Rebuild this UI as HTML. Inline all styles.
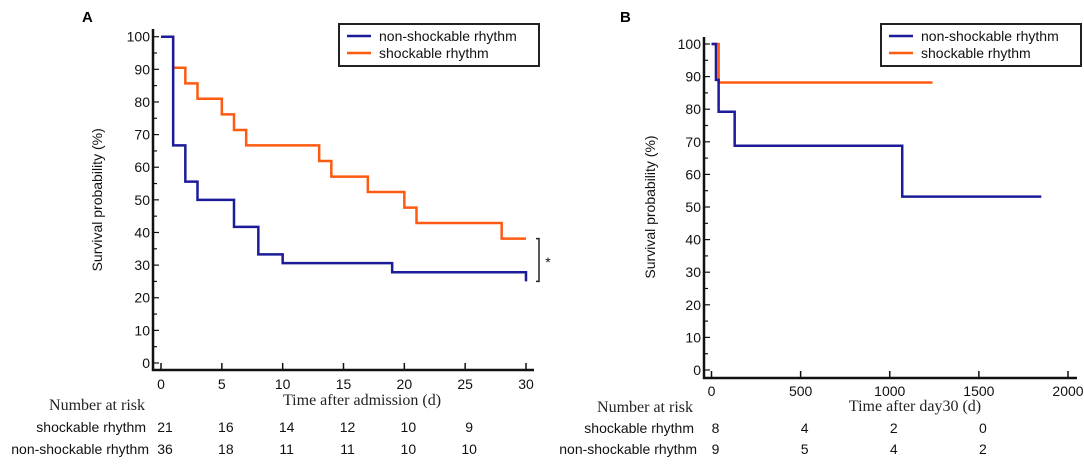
<!DOCTYPE html>
<html><head><meta charset="utf-8">
<style>
body{margin:0;background:#fff;}
svg{display:block;font-family:"Liberation Sans",sans-serif;}
.tick{font-size:14px;fill:#111;}
.serif{font-family:"Liberation Serif",serif;font-size:16px;fill:#222;}
</style></head>
<body>
<svg id="chart" width="1084" height="470" viewBox="0 0 1084 470"></svg>
<script>
// Panel A data
const aTimes = [0,1,2,3,5,6,7,13,14,17,20,21,28,30];
const aShock = [100,90.5,85.7,81,76.2,71.4,66.7,61.9,57.1,52.4,47.6,42.9,38.1,38.1];
const aNonTimes = [0,1,2,3,6,8,10,19,30];
const aNon = [100,66.7,55.6,50,41.7,33.3,30.6,27.8,25];
const aXTicks = [0,5,10,15,20,25,30];
const yTicks = [0,10,20,30,40,50,60,70,80,90,100];
const aRiskShock = ["21","16","14","12","10","9"];
const aRiskNon = ["36","18","11","11","10","10"];
// Panel B data
const bShockTimes = [0,40,1240];
const bShock = [100,88.2,88.2];
const bNonTimes = [0,25,40,130,1070,1850];
const bNon = [100,89,79.2,68.8,53.2,53.2];
const bXTicks = [0,500,1000,1500,2000];
const bRiskShock = ["8","4","2","0"];
const bRiskNon = ["9","5","4","2"];

const svg = document.getElementById('chart');
const NS = 'http://www.w3.org/2000/svg';
function el(tag, attrs, parent){
  const e = document.createElementNS(NS, tag);
  for (const k in attrs) e.setAttribute(k, attrs[k]);
  (parent||svg).appendChild(e);
  return e;
}
function txt(x,y,s,cls,anchor,parent){
  const t = el('text',{x:x,y:y,class:cls,'text-anchor':anchor||'middle'},parent);
  t.textContent = s;
  return t;
}
function stepPath(times, vals, sx, sy){
  let d = 'M'+sx(times[0])+','+sy(vals[0]);
  for (let i=1;i<times.length;i++){
    d += ' H'+sx(times[i])+' V'+sy(vals[i]);
  }
  return d;
}

function panel(cfg){
  const g = el('g',{});
  
  
  const sx = v => cfg.x0 + (v - cfg.xmin)/(cfg.xmax - cfg.xmin)*(cfg.x1 - cfg.x0);
  const sy = v => cfg.y0 - v/100*(cfg.y0 - cfg.y100);
  const ax = el('path',{d:'M'+cfg.axX+','+cfg.axTop+' V'+cfg.axY+' H'+cfg.axRight,stroke:'#111','stroke-width':2.5,fill:'none'},g);
  
  
  for (let i=0;i<=20;i++){
    const v=i*5, y=sy(v);
    el('line',{x1:cfg.axX,x2:cfg.axX+(i%2==0?6:4),y1:y,y2:y,stroke:'#111','stroke-width':1.2},g);
  }
  yTicks.forEach(v=>{
    const t = txt(cfg.axX-3, sy(v)+5, String(v), 'tick','end',g);
    
    
  });
  cfg.xTicks.forEach(v=>{
    el('line',{x1:sx(v),x2:sx(v),y1:cfg.axY,y2:cfg.axY-7,stroke:'#111','stroke-width':1.5},g);
    const t = txt(sx(v), cfg.xLabY, String(v), 'tick','middle',g);
    
    
  });
  const yt = el('text',{x:0,y:0,transform:'translate('+cfg.yTitleX+','+sy(50)+') rotate(-90)','text-anchor':'middle',class:'tick'},g);
  yt.textContent='Survival probability (%)';
  
  
  const xt = txt(cfg.xTitleX, cfg.xTitleY, cfg.xTitle, 'serif','middle',g);
  
  
  const o = el('path',{d:stepPath(cfg.sT,cfg.sV,sx,sy),stroke:'#ff5a12','stroke-width':2.5,fill:'none'},g);
  
  
  const b = el('path',{d:stepPath(cfg.nT,cfg.nV,sx,sy),stroke:'#1c1c9a','stroke-width':2.5,fill:'none'},g);
  
  
  const lg = el('g',{},g);
  
  
  el('rect',{x:cfg.lx,y:cfg.ly,width:cfg.lw,height:42,fill:'#fff',stroke:'#222','stroke-width':2},lg);
  el('line',{x1:cfg.lx+8,x2:cfg.lx+32,y1:cfg.ly+12,y2:cfg.ly+12,stroke:'#1c1c9a','stroke-width':2.5},lg);
  el('line',{x1:cfg.lx+8,x2:cfg.lx+32,y1:cfg.ly+29,y2:cfg.ly+29,stroke:'#ff5a12','stroke-width':2.5},lg);
  const l1=txt(cfg.lx+40,cfg.ly+17,'non-shockable rhythm','tick','start',lg);
  
  
  const l2=txt(cfg.lx+40,cfg.ly+34,'shockable rhythm','tick','start',lg);
  
  
  const pl = el('text',{x:cfg.letterX,y:22,'font-size':'15','font-weight':'bold'},g);
  pl.textContent = cfg.letter;
  
  
  const rt = el('g',{},g);
  
  
  txt(cfg.riskLabelX, cfg.riskY, 'Number at risk','serif','end',rt);
  txt(cfg.riskLabelX+1, cfg.riskY+cfg.rowGap1, 'shockable rhythm','tick','end',rt);
  txt(cfg.riskLabelX+4, cfg.riskY+cfg.rowGap2, 'non-shockable rhythm','tick','end',rt);
  cfg.rS.forEach((s,i)=>txt(sx(cfg.xTicks[i])+4, cfg.riskY+cfg.rowGap1, s,'tick','middle',rt));
  cfg.rN.forEach((s,i)=>txt(sx(cfg.xTicks[i])+4, cfg.riskY+cfg.rowGap2, s,'tick','middle',rt));
  return {g,sx,sy};
}

const A = panel({name:'panel-a',letter:'A',letterX:82,x0:161,x1:526,xmin:0,xmax:30,y0:363,y100:36.7,
  axX:153,axTop:29,axY:370,axRight:534,xTicks:aXTicks,yTitleX:102,xTitleX:362,xTitle:'Time after admission (d)',
  xLabY:389,xTitleY:405,
  sT:aTimes,sV:aShock,nT:aNonTimes,nV:aNon,lx:339,ly:24,lw:200,
  riskLabelX:145,riskY:410,rowGap1:22,rowGap2:44,rS:aRiskShock,rN:aRiskNon});
const br = el('path',{d:'M'+(A.sx(30)+10)+','+A.sy(38.1)+' H'+(A.sx(30)+13)+' V'+A.sy(25)+' H'+(A.sx(30)+10),stroke:'#222','stroke-width':1.5,fill:'none'});


const ast = txt(A.sx(30)+22, A.sy(31)+5, '*','tick','middle');



panel({name:'panel-b',letter:'B',letterX:620,x0:711.5,x1:1068,xmin:0,xmax:2000,y0:370,y100:44,
  axX:704,axTop:37,axY:378,axRight:1077,xTicks:bXTicks,yTitleX:655,xTitleX:915,xTitle:'Time after day30 (d)',
  xLabY:396,xTitleY:411,
  sT:bShockTimes,sV:bShock,nT:bNonTimes,nV:bNon,lx:881,ly:24,lw:200,
  riskLabelX:693,riskY:412,rowGap1:21,rowGap2:42,rS:bRiskShock,rN:bRiskNon});
</script>
</body></html>
